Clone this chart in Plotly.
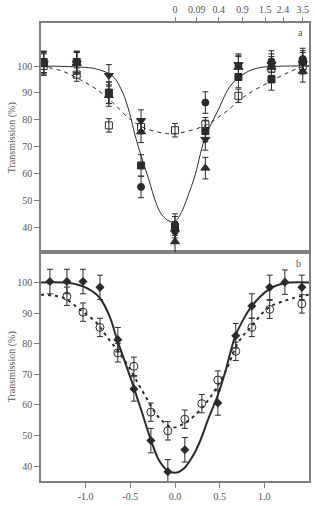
import plotly.graph_objects as go

# ---------------- Panel a data ----------------
xa = [-1.47, -1.10, -0.74, -0.38, 0.00, 0.34, 0.71, 1.08, 1.43]
a_circle = [101.5, 101.5, 90.0, 55.0, 41.0, 86.4, 100.0, 101.7, 102.6]
a_square = [101.5, 101.5, 90.1, 63.0, 40.0, 75.8, 95.9, 95.0, 101.7]
a_tri_up = [100.5, 101.0, 89.0, 75.5, 34.6, 62.0, 99.5, 99.5, 98.0]
a_tri_down = [101.0, 101.0, 96.5, 79.7, 38.0, 72.7, 100.5, 100.5, 101.0]
a_open_sq = [100.0, 96.8, 77.9, 77.3, 76.1, 78.3, 88.9, 99.0, 100.0]
a_err_filled = 4.0
a_err_open = 2.5

# fit curves
fa_x = [-1.5, -1.067, -0.881, -0.697, -0.586, -0.511, -0.437, -0.311, -0.144, -0.011,
        0.192, 0.31, 0.356, 0.489, 0.619, 0.786, 0.933, 1.156, 1.5]
fa_solid = [100, 99.6, 98.9, 96.2, 90.1, 82.8, 73.0, 59.6, 44.5, 42.0,
            56.0, 70.6, 75.0, 84.0, 92.6, 97.4, 99.3, 99.9, 100]
fa_dx = [-1.5, -1.252, -1.067, -0.881, -0.697, -0.511, -0.326, -0.103, 0.0, 0.341, 0.563,
         0.786, 1.044, 1.303, 1.452, 1.5]
fa_dash = [100, 98.0, 95.0, 91.4, 86.4, 80.4, 76.7, 74.9, 74.8, 77.9, 82.8,
           88.9, 93.8, 98.1, 99.9, 100]

# top axis ticks
top_tickpos = [0.0, 0.244, 0.489, 0.756, 1.01, 1.21, 1.43]
top_ticktext = ["0", "0.09", "0.4", "0.9", "1.5", "2.4", "3.5"]

# ---------------- Panel b data ----------------
xb_d = [-1.40, -1.21, -1.03, -0.84, -0.64, -0.46, -0.27, -0.08, 0.11, 0.48, 0.68, 0.86, 1.06, 1.23, 1.42]
b_diamond = [100.3, 100.3, 100.3, 98.4, 81.3, 65.2, 48.3, 38.1, 45.3, 60.6, 82.6, 92.3, 98.4, 100.1, 98.4]
xb_o = [-1.21, -1.03, -0.84, -0.64, -0.46, -0.27, -0.08, 0.11, 0.30, 0.48, 0.68, 0.86, 1.06, 1.42]
b_open = [95.5, 90.3, 85.3, 77.0, 72.6, 57.6, 51.5, 55.3, 60.4, 68.1, 77.5, 85.3, 91.2, 93.0]
b_err_d = 4.0
b_err_o = 3.0

fb_x = [-1.5, -1.178, -0.992, -0.844, -0.733, -0.648, -0.548, -0.456, -0.363, -0.266, -0.178,
        -0.078, 0.008, 0.1, 0.192, 0.267, 0.378, 0.481, 0.563, 0.674, 0.786, 0.859, 1.044, 1.23, 1.5]
fb_solid = [100, 99.8, 98.2, 95.0, 89.0, 81.3, 73.0, 65.2, 56.9, 48.2, 41.8,
            38.4, 37.8, 39.2, 42.9, 47.2, 55.8, 63.3, 70.8, 82.4, 89.0, 92.3, 97.6, 99.8, 100]
fb_dx = [-1.5, -1.252, -1.067, -0.881, -0.770, -0.552, -0.363, -0.178, -0.026, 0.119, 0.267,
         0.415, 0.563, 0.711, 0.859, 1.044, 1.267, 1.452, 1.5]
fb_dash = [96, 95.0, 91.2, 86.9, 82.6, 74.0, 64.4, 55.8, 52.6, 54.2, 57.9,
           63.3, 70.8, 80.5, 85.8, 91.7, 94.4, 95.8, 96]

bottom_ticks = [-1.0, -0.5, 0.0, 0.5, 1.0]

INK = "#2b2b2b"
AX = "#808080"
FONT = "Liberation Serif"
TXT = "#555555"

fig = go.Figure()

def err(v):
    return dict(type="constant", value=v, color=INK, thickness=1, width=3)

# panel a lines
fig.add_trace(go.Scatter(x=fa_x, y=fa_solid, mode="lines", line=dict(color=INK, width=1, shape="spline"),
                         xaxis="x2", yaxis="y2", showlegend=False))
fig.add_trace(go.Scatter(x=fa_dx, y=fa_dash, mode="lines", line=dict(color=INK, width=1, dash="4px,4px", shape="spline"),
                         xaxis="x2", yaxis="y2", showlegend=False))
# panel a markers
for vals, sym, size, e in [
    (a_open_sq, "square-open", 7, a_err_open),
    (a_tri_up, "triangle-up", 8, a_err_filled),
    (a_tri_down, "triangle-down", 8, a_err_filled),
    (a_square, "square", 7, a_err_filled),
    (a_circle, "circle", 7, a_err_filled),
]:
    fig.add_trace(go.Scatter(x=xa, y=vals, mode="markers",
                             marker=dict(symbol=sym, size=size, color=INK, line=dict(color=INK, width=1)),
                             error_y=err(e), xaxis="x2", yaxis="y2", showlegend=False))

# panel b lines
fig.add_trace(go.Scatter(x=fb_x, y=fb_solid, mode="lines", line=dict(color=INK, width=2, shape="spline"),
                         xaxis="x", yaxis="y", showlegend=False))
fig.add_trace(go.Scatter(x=fb_dx, y=fb_dash, mode="lines", line=dict(color=INK, width=2, dash="3px,4px", shape="spline"),
                         xaxis="x", yaxis="y", showlegend=False))
fig.add_trace(go.Scatter(x=xb_o, y=b_open, mode="markers",
                         marker=dict(symbol="circle-open", size=8, color=INK, line=dict(color=INK, width=1)),
                         error_y=err(b_err_o), xaxis="x", yaxis="y", showlegend=False))
fig.add_trace(go.Scatter(x=xb_d, y=b_diamond, mode="markers",
                         marker=dict(symbol="diamond", size=7, color=INK),
                         error_y=err(b_err_d), xaxis="x", yaxis="y", showlegend=False))

split = (481 - 249) / 465.0
tickfont = dict(family=FONT, size=10, color=TXT)
ytitle = dict(text="Transmission (%)", font=dict(family=FONT, size=10, color=TXT), standoff=0)

fig.update_layout(
    width=315, height=506,
    margin=dict(l=41, r=4, t=16, b=25),
    paper_bgcolor="white", plot_bgcolor="white",
    font=dict(family=FONT, size=10, color=TXT),
    xaxis=dict(domain=[0, 1], range=[-1.5, 1.5], anchor="y", tickvals=bottom_ticks,
               ticktext=["-1.0", "-0.5", "0.0", "0.5", "1.0"],
               ticks="outside", ticklen=5, tickcolor=AX, showline=True, linecolor=AX, linewidth=1.5,
               mirror=True, showgrid=False, zeroline=False, tickfont=tickfont),
    yaxis=dict(domain=[0, split], range=[35.1, 109.8], anchor="x", tickvals=[40, 50, 60, 70, 80, 90, 100],
               ticks="outside", ticklen=5, tickcolor=AX, showline=True, linecolor=AX, linewidth=1.5,
               mirror=True, showgrid=False, zeroline=False, tickfont=tickfont, title=ytitle),
    xaxis2=dict(domain=[0, 1], range=[-1.5, 1.5], anchor="y2", showticklabels=False, ticks="",
                showline=True, linecolor=AX, linewidth=1.5, mirror=True, showgrid=False, zeroline=False),
    yaxis2=dict(domain=[split, 1], range=[30.6, 116], anchor="x2", tickvals=[40, 50, 60, 70, 80, 90, 100],
                ticks="outside", ticklen=5, tickcolor=AX, showline=True, linecolor=AX, linewidth=1.5,
                mirror=True, showgrid=False, zeroline=False, tickfont=tickfont, title=ytitle),
    xaxis3=dict(overlaying="x2", side="top", anchor="y2", range=[-1.5, 1.5], tickvals=top_tickpos,
                ticktext=top_ticktext, ticks="outside", ticklen=5, tickcolor=AX, showline=False,
                showgrid=False, zeroline=False, tickfont=tickfont),
)
# panel letters at pixel positions converted to paper coords
W, H = 315 - 41 - 4, 506 - 16 - 25
fig.add_annotation(text="a", x=(302 - 41) / W, y=(481 - 26) / H, xref="paper", yref="paper",
                   showarrow=False, xanchor="center", yanchor="middle", font=dict(family=FONT, size=10, color=TXT))
fig.add_annotation(text="b", x=(300 - 41) / W, y=(481 - 260) / H, xref="paper", yref="paper",
                   showarrow=False, xanchor="center", yanchor="middle", font=dict(family=FONT, size=10, color=TXT))

# invisible trace to activate top axis
fig.add_trace(go.Scatter(x=[0], y=[50], mode="markers", marker=dict(opacity=0), xaxis="x3", yaxis="y2",
                         showlegend=False, hoverinfo="skip"))

fig.write_html("out.html")
